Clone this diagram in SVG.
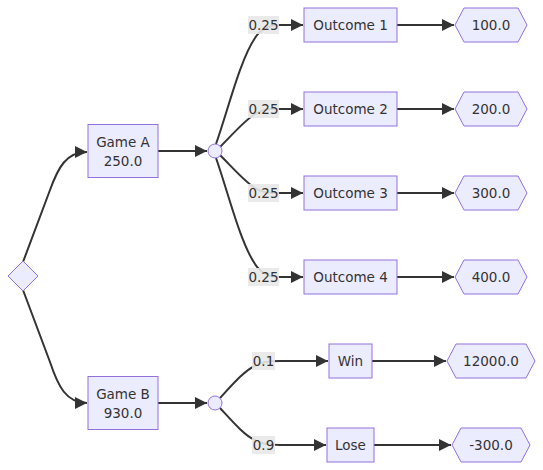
<svg xmlns="http://www.w3.org/2000/svg" width="543" height="470" viewBox="0 0 543 470">
<style>
.node rect,.node polygon,.node circle{fill:#ECECFF;stroke:#9370DB;stroke-width:1}
text{font-family:"DejaVu Sans",Verdana,sans-serif;font-size:13.5px;fill:#333;text-anchor:middle}
.edge{fill:none;stroke:#333;stroke-width:2}
.lbl rect{fill:#e8e8e8;opacity:0.9}
</style>
<defs>
<marker id="arr" markerUnits="userSpaceOnUse" markerWidth="12" markerHeight="12" viewBox="0 0 10 10" refX="10" refY="5" orient="auto">
<path d="M0,0 L10,5 L0,10 z" fill="#333"/>
</marker>
</defs>
<rect width="543" height="470" fill="#fff"/>
<g id="connectors">
<path class="edge" marker-end="url(#arr)" d="M23,262 L50,190 C58,168 66,152 87,152"/>
<path class="edge" marker-end="url(#arr)" d="M23,290 L50,362 C58,386 66,403 87,403"/>
<path class="edge" marker-end="url(#arr)" d="M158,151 L207,151"/>
<path class="edge" marker-end="url(#arr)" d="M158,403 L207,403"/>
<path class="edge" marker-end="url(#arr)" d="M216,144 C228,110 240,60 255,38 Q263,25 280,25 L303,25"/>
<path class="edge" marker-end="url(#arr)" d="M220,147 C232,135 245,120 255,114 Q262,109 275,109 L303,109"/>
<path class="edge" marker-end="url(#arr)" d="M220,155 C232,167 245,182 255,188 Q262,193 275,193 L303,193"/>
<path class="edge" marker-end="url(#arr)" d="M216,158 C228,192 240,242 255,264 Q263,277 280,277 L303,277"/>
<path class="edge" marker-end="url(#arr)" d="M220,398 C232,385 245,370 255,366 Q262,361 280,361 L328,361"/>
<path class="edge" marker-end="url(#arr)" d="M220,408 C232,421 245,436 255,440 Q262,445 280,445 L326,445"/>
<path class="edge" marker-end="url(#arr)" d="M397,25 L454,25"/>
<path class="edge" marker-end="url(#arr)" d="M397,109 L454,109"/>
<path class="edge" marker-end="url(#arr)" d="M397,193 L454,193"/>
<path class="edge" marker-end="url(#arr)" d="M397,277 L454,277"/>
<path class="edge" marker-end="url(#arr)" d="M372,361 L446,361"/>
<path class="edge" marker-end="url(#arr)" d="M374,445 L451,445"/>
<g class="lbl"><rect x="248" y="16" width="31" height="18"/><text x="263.5" y="30">0.25</text></g>
<g class="lbl"><rect x="248" y="100" width="31" height="18"/><text x="263.5" y="114">0.25</text></g>
<g class="lbl"><rect x="248" y="184" width="31" height="18"/><text x="263.5" y="198">0.25</text></g>
<g class="lbl"><rect x="248" y="268" width="31" height="18"/><text x="263.5" y="282">0.25</text></g>
<g class="lbl"><rect x="252" y="352" width="23" height="18"/><text x="263.5" y="366">0.1</text></g>
<g class="lbl"><rect x="252" y="436" width="23" height="18"/><text x="263.5" y="450">0.9</text></g>
</g>
<g id="start" class="node"><polygon points="23,261 38,276 23,291 8,276"/></g>
<g id="gameA" class="node"><rect x="88" y="124.5" width="70" height="53"/><text x="123" y="147">Game A</text><text x="123" y="166">250.0</text></g>
<g id="gameB" class="node"><rect x="88" y="376.5" width="70" height="53"/><text x="123" y="399">Game B</text><text x="123" y="418">930.0</text></g>
<g id="chanceA" class="node"><circle cx="215" cy="151" r="7"/></g>
<g id="chanceB" class="node"><circle cx="215" cy="403" r="7"/></g>
<g id="out1" class="node"><rect x="304" y="8" width="93" height="34"/><text x="350.5" y="30">Outcome 1</text></g>
<g id="out2" class="node"><rect x="304" y="92" width="93" height="34"/><text x="350.5" y="114">Outcome 2</text></g>
<g id="out3" class="node"><rect x="304" y="176" width="93" height="34"/><text x="350.5" y="198">Outcome 3</text></g>
<g id="out4" class="node"><rect x="304" y="260" width="93" height="34"/><text x="350.5" y="282">Outcome 4</text></g>
<g id="win" class="node"><rect x="329" y="344" width="43" height="34"/><text x="350.5" y="366">Win</text></g>
<g id="lose" class="node"><rect x="327" y="428" width="47" height="34"/><text x="350.5" y="450">Lose</text></g>
<g id="v1" class="node"><polygon points="455,25 464,8 518,8 527,25 518,42 464,42"/><text x="491" y="30">100.0</text></g>
<g id="v2" class="node"><polygon points="455,109 464,92 518,92 527,109 518,126 464,126"/><text x="491" y="114">200.0</text></g>
<g id="v3" class="node"><polygon points="455,193 464,176 518,176 527,193 518,210 464,210"/><text x="491" y="198">300.0</text></g>
<g id="v4" class="node"><polygon points="455,277 464,260 518,260 527,277 518,294 464,294"/><text x="491" y="282">400.0</text></g>
<g id="vWin" class="node"><polygon points="447,361 456,344 526,344 535,361 526,378 456,378"/><text x="491" y="366">12000.0</text></g>
<g id="vLose" class="node"><polygon points="452,445 461,428 521,428 530,445 521,462 461,462"/><text x="491" y="450">-300.0</text></g>
</svg>
